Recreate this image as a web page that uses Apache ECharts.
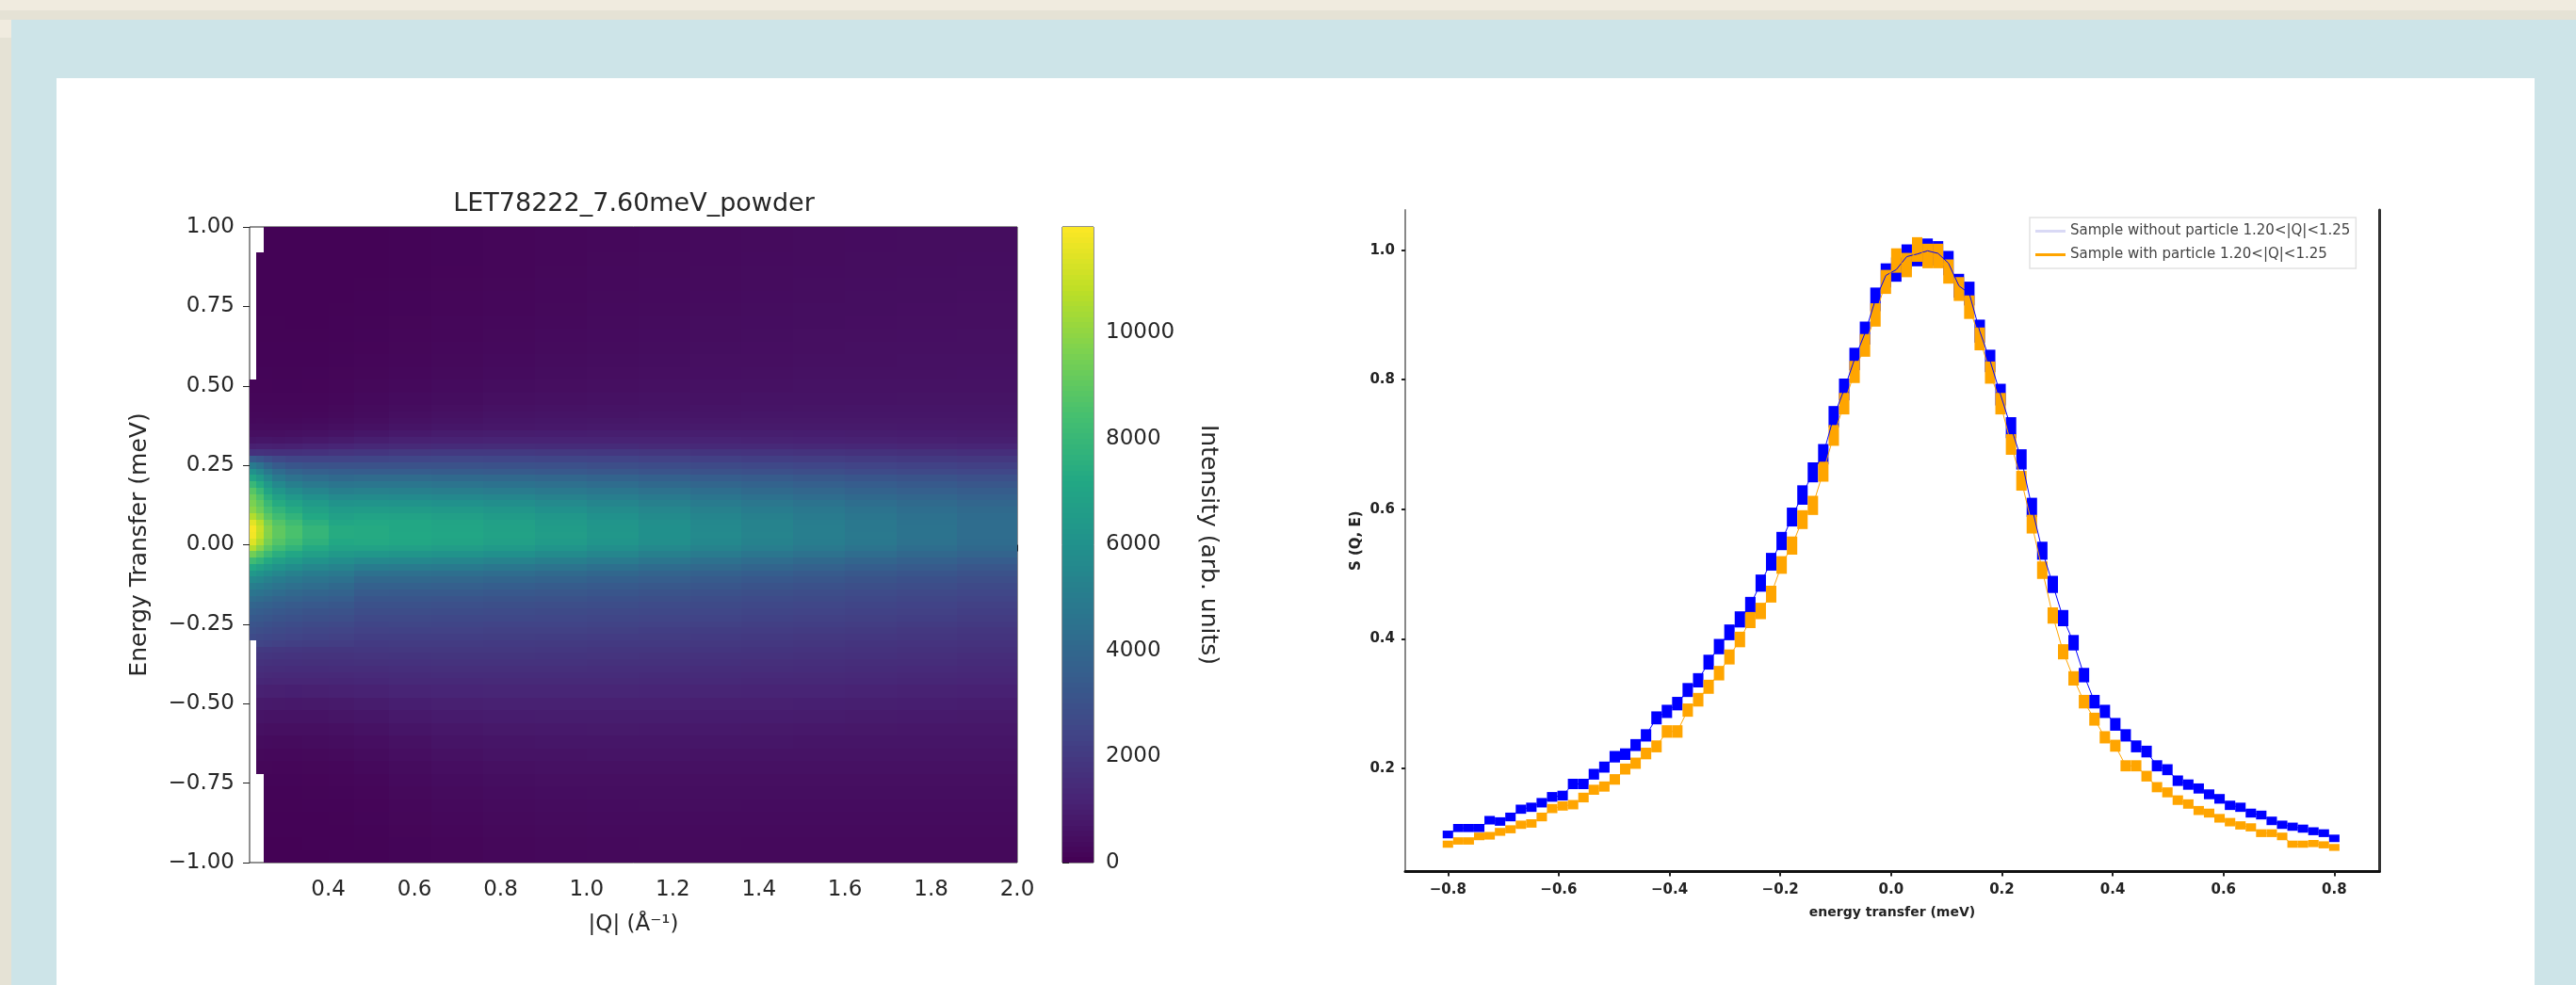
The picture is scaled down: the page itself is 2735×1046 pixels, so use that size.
<!DOCTYPE html>
<html><head><meta charset="utf-8">
<style>
html,body{margin:0;padding:0;width:2735px;height:1046px;overflow:hidden;background:#f0ebdf}
.p{position:absolute}
#chart{position:absolute;left:0;top:0;width:2735px;height:1046px;filter:blur(0.7px)}
</style>
<script src="https://cdn.jsdelivr.net/npm/echarts@6/dist/echarts.min.js"></script>
</head><body>
<div class="p" style="left:0;top:11px;width:2735px;height:10px;background:#e5e2d5"></div>
<div class="p" style="left:0;top:40px;width:12px;height:1006px;background:#e5e2d5"></div>
<div class="p" style="left:12px;top:21px;width:2723px;height:1025px;background:#cde4e8"></div>
<div class="p" style="left:60px;top:83px;width:2631px;height:963px;background:#fff"></div>
<div id="chart"></div>
<script>
const heatTitle = 'LET78222_7.60meV_powder';
const qEdges = [0.217,0.232,0.25,0.27,0.30,0.34,0.40,0.46,0.54,0.64,0.76,0.88,1.0,1.12,1.24,1.36,1.48,1.6,1.72,1.86,2.0];
const energyEdges = [1,.96,.92,.88,.84,.80,.76,.72,.68,.64,.60,.56,.52,.48,.44,.42,.40,.38,.36,.34,.32,.30,.28,.26,.24,.22,.20,.18,.16,.14,.12,.10,.08,.06,.04,.02,0,
 -.02,-.04,-.06,-.08,-.10,-.12,-.14,-.16,-.18,-.20,-.22,-.24,-.26,-.28,-.30,-.32,-.34,-.36,-.38,-.40,-.42,-.44,-.48,-.52,-.56,-.60,-.64,-.68,-.72,-.76,-.80,-.84,-.88,-.92,-.96,-1];
const n = null;
const intensityRows = [
[n,n,60,60,60,60,70,80,100,130,165,200,245,275,305,340,365,385,395,405],
[n,n,60,60,60,60,70,80,100,130,170,210,255,285,315,345,370,390,400,410],
[n,70,70,60,60,60,70,80,105,140,175,220,265,295,325,355,380,400,415,425],
[n,70,70,70,60,60,70,85,115,150,185,230,275,305,335,365,390,410,425,435],
[n,70,70,70,70,70,80,90,125,160,195,240,285,315,345,375,400,420,435,445],
[n,80,80,70,70,70,80,95,130,170,205,250,300,325,355,385,410,430,445,455],
[n,80,80,80,80,80,90,105,140,180,220,270,315,345,375,405,430,445,455,465],
[n,90,90,90,80,80,100,120,155,200,240,290,335,365,395,420,445,460,475,485],
[n,90,90,90,90,90,110,135,175,220,260,310,355,385,415,440,465,480,495,505],
[n,100,100,100,100,100,120,150,195,240,285,335,380,410,435,460,485,500,515,525],
[n,110,110,110,110,110,135,170,220,270,315,365,410,440,465,490,510,525,535,545],
[n,130,130,120,120,130,155,195,250,300,350,405,450,475,495,520,540,555,560,565],
[150,150,150,140,140,150,185,230,290,350,395,450,490,520,535,555,570,585,590,595],
[170,170,170,170,170,180,220,280,350,410,465,510,545,570,585,605,620,630,635,635],
[200,205,205,200,200,215,260,330,410,480,535,575,610,630,650,660,670,675,680,680],
[240,240,240,235,235,255,305,380,470,545,600,640,665,685,700,710,715,720,720,715],
[290,295,290,285,290,315,370,450,545,625,675,715,740,755,765,775,780,780,775,770],
[370,380,370,365,375,405,465,550,645,720,770,800,825,835,840,845,845,840,830,820],
[470,490,490,480,500,545,620,720,830,910,950,975,985,990,985,980,965,950,930,910],
[680,710,710,700,730,790,880,980,1080,1140,1170,1180,1180,1170,1150,1130,1110,1090,1060,1030],
[1050,1080,1080,1060,1090,1160,1250,1340,1430,1480,1490,1480,1460,1430,1400,1370,1340,1310,1280,1240],
[1700,1720,1680,1640,1650,1700,1780,1850,1930,1970,1970,1950,1900,1860,1810,1770,1730,1680,1630,1580],
[3400,3200,2900,2600,2450,2400,2400,2450,2500,2520,2500,2450,2380,2310,2240,2180,2120,2060,2000,1930],
[4900,4500,3900,3400,3150,3050,3000,3000,3030,3030,2990,2920,2830,2750,2660,2580,2500,2420,2340,2250],
[6000,5500,4800,4200,3850,3650,3550,3500,3500,3470,3420,3330,3230,3130,3020,2920,2820,2730,2630,2530],
[7000,6400,5600,4900,4500,4250,4100,4150,4150,4100,4020,3920,3790,3660,3530,3400,3290,3170,3050,2920],
[8000,7300,6350,5600,5150,4850,4650,4700,4690,4620,4530,4400,4260,4100,3940,3790,3650,3510,3360,3220],
[8800,8050,7000,6250,5750,5400,5150,5210,5170,5100,4990,4840,4680,4490,4310,4140,3970,3810,3650,3490],
[9300,8600,7550,6850,6350,5950,5650,5710,5670,5570,5450,5260,5080,4870,4670,4470,4280,4100,3910,3740],
[9600,9000,8050,7350,6900,6450,6100,6160,6100,6000,5850,5650,5430,5200,4960,4740,4550,4340,4130,3930],
[9900,9300,8450,7800,7350,6850,6500,6590,6540,6420,6250,6020,5770,5520,5250,5010,4790,4560,4330,4120],
[10600,9900,8900,8250,7750,7200,6800,6910,6860,6730,6530,6290,6000,5720,5440,5180,4940,4690,4450,4220],
[11500,10700,9500,8750,8200,7550,7100,7220,7120,6980,6760,6480,6180,5890,5570,5300,5040,4780,4530,4280],
[11900,11000,9800,9000,8500,7850,7350,7300,7140,7040,6830,6560,6250,5930,5620,5330,5060,4800,4540,4270],
[11800,10900,9750,9000,8500,7850,7350,7300,7190,7090,6880,6620,6290,5970,5650,5370,5090,4830,4560,4290],
[11400,10500,9450,8750,8250,7650,7200,7250,7140,6980,6770,6510,6200,5890,5580,5290,5030,4780,4500,4240],
[10600,9800,8900,8250,7750,7250,6900,6900,6760,6640,6450,6200,5910,5630,5340,5080,4830,4590,4340,4090],
[9400,8800,8100,7500,7100,6700,6400,6320,6220,6100,5940,5710,5460,5200,4950,4710,4490,4270,4050,3830],
[8200,7800,7250,6800,6450,6100,5850,5620,5550,5450,5320,5130,4920,4700,4480,4280,4090,3900,3710,3510],
[7200,6850,6450,6100,5800,5500,5300,5000,4950,4870,4750,4600,4420,4240,4060,3890,3730,3570,3410,3230],
[6350,6100,5800,5500,5250,5000,4850,4450,4410,4350,4250,4130,3990,3850,3700,3560,3430,3290,3150,3000],
[5650,5500,5250,5000,4800,4600,4450,4040,4010,3960,3880,3780,3660,3540,3420,3300,3190,3070,2950,2820],
[5100,5000,4800,4600,4400,4250,4100,3690,3670,3630,3560,3480,3380,3280,3180,3080,2980,2880,2780,2660],
[4650,4550,4400,4200,4050,3900,3780,3410,3390,3360,3300,3230,3150,3060,2970,2890,2800,2710,2620,2520],
[4250,4150,4050,3850,3720,3600,3500,3170,3160,3130,3080,3020,2950,2880,2800,2730,2650,2570,2490,2400],
[3900,3800,3700,3550,3430,3320,3250,2970,2960,2930,2890,2840,2780,2720,2650,2590,2520,2450,2370,2290],
[3600,3520,3420,3300,3180,3080,3020,2780,2780,2760,2720,2680,2630,2570,2510,2460,2400,2340,2270,2190],
[3350,3270,3180,3070,2960,2880,2820,2610,2610,2590,2560,2530,2480,2430,2380,2340,2280,2230,2170,2090],
[3130,3050,2950,2850,2750,2680,2630,2460,2470,2450,2420,2400,2350,2310,2270,2220,2170,2120,2060,1990],
[2920,2840,2750,2650,2560,2490,2440,2310,2320,2310,2290,2270,2230,2190,2150,2110,2060,2010,1960,1890],
[2700,2630,2550,2470,2390,2320,2280,2170,2190,2180,2160,2150,2110,2080,2040,2000,1960,1910,1860,1800],
[n,2430,2360,2290,2220,2160,2130,2040,2060,2060,2040,2030,2000,1970,1940,1900,1860,1810,1770,1710],
[n,2030,1980,1940,1910,1890,1890,1910,1930,1940,1930,1920,1890,1860,1840,1800,1770,1720,1680,1630],
[n,1880,1840,1800,1770,1760,1760,1790,1810,1820,1820,1810,1790,1760,1740,1710,1680,1640,1600,1550],
[n,1730,1690,1660,1640,1630,1640,1670,1700,1710,1710,1710,1690,1670,1650,1620,1590,1550,1520,1470],
[n,1590,1550,1530,1510,1510,1520,1550,1590,1600,1610,1610,1590,1570,1550,1530,1500,1470,1440,1400],
[n,1450,1420,1400,1390,1390,1400,1440,1480,1500,1510,1510,1500,1480,1460,1440,1420,1390,1360,1320],
[n,1320,1290,1270,1260,1270,1290,1330,1380,1400,1420,1420,1410,1390,1380,1360,1340,1310,1290,1250],
[n,1100,1060,1050,1040,1050,1080,1140,1200,1240,1260,1270,1260,1250,1230,1210,1190,1170,1140,1110],
[n,850,820,810,800,810,850,910,1000,1060,1090,1100,1100,1090,1070,1060,1040,1020,1000,970],
[n,660,630,620,620,630,670,730,820,900,940,960,960,950,940,930,910,890,870,850],
[n,500,480,470,470,480,520,580,680,770,810,830,840,830,820,810,800,780,770,760],
[n,370,350,340,340,360,400,460,560,650,700,720,730,730,720,710,700,690,690,680],
[n,260,250,250,250,270,300,360,460,550,600,630,640,640,630,630,620,610,600,600],
[n,190,190,180,180,190,220,280,370,460,510,540,560,560,550,550,550,540,540,540],
[n,n,140,140,140,150,170,220,310,390,440,470,490,490,490,490,480,480,480,480],
[n,n,110,110,110,120,140,180,260,330,390,420,440,440,440,440,430,430,430,430],
[n,n,90,90,90,100,110,150,220,280,340,370,390,395,395,390,390,390,390,390],
[n,n,70,70,70,80,90,130,190,240,300,330,350,355,355,350,350,350,350,350],
[n,n,60,60,60,70,80,110,160,210,260,300,320,325,325,320,320,320,320,320],
[n,n,50,50,50,60,70,90,140,180,230,270,290,295,295,290,290,290,290,290],
[n,n,50,50,50,50,60,80,120,160,210,240,260,265,270,270,270,270,270,270]
];
const qTicks = [0.4,0.6,0.8,1.0,1.2,1.4,1.6,1.8,2.0];
const energyTicks = [-1,-0.75,-0.5,-0.25,0,0.25,0.5,0.75,1];
const barTicks = [0,2000,4000,6000,8000,10000];
const viridis = ['#440154','#482475','#414487','#355f8d','#2a788e','#21918c','#22a884','#44bf70','#7ad151','#bddf26','#fde725'];

const transferX = [-0.8,-0.7812,-0.7624,-0.7435,-0.7247,-0.7059,-0.6871,-0.6682,-0.6494,-0.6306,-0.6118,-0.5929,-0.5741,-0.5553,-0.5365,-0.5176,-0.4988,-0.48,-0.4612,-0.4424,-0.4235,-0.4047,-0.3859,-0.3671,-0.3482,-0.3294,-0.3106,-0.2918,-0.2729,-0.2541,-0.2353,-0.2165,-0.1976,-0.1788,-0.16,-0.1412,-0.1224,-0.1035,-0.0847,-0.0659,-0.0471,-0.0282,-0.0094,0.0094,0.0282,0.0471,0.0659,0.0847,0.1035,0.1224,0.1412,0.16,0.1788,0.1976,0.2165,0.2353,0.2541,0.2729,0.2918,0.3106,0.3294,0.3482,0.3671,0.3859,0.4047,0.4235,0.4424,0.4612,0.48,0.4988,0.5176,0.5365,0.5553,0.5741,0.5929,0.6118,0.6306,0.6494,0.6682,0.6871,0.7059,0.7247,0.7435,0.7624,0.7812,0.8];
const withoutParticle = [.098,.108,.108,.108,.120,.118,.125,.137,.140,.147,.156,.158,.176,.176,.191,.202,.218,.222,.236,.251,.278,.288,.300,.321,.336,.364,.388,.410,.430,.452,.486,.519,.551,.588,.622,.657,.685,.743,.785,.832,.872,.924,.961,.970,.990,.994,.999,.995,.980,.945,.933,.875,.829,.777,.726,.677,.603,.536,.484,.432,.394,.344,.303,.288,.268,.251,.234,.226,.204,.198,.181,.175,.169,.160,.153,.143,.140,.131,.128,.119,.113,.110,.107,.103,.100,.092];
const withParticle = [.083,.088,.088,.095,.096,.102,.106,.113,.115,.125,.138,.142,.144,.155,.167,.172,.183,.199,.208,.223,.234,.257,.257,.290,.306,.326,.347,.372,.399,.429,.443,.469,.514,.544,.584,.606,.658,.714,.763,.812,.853,.900,.951,.984,.977,1.001,.991,.991,.967,.940,.912,.863,.811,.763,.700,.644,.577,.506,.436,.380,.339,.303,.276,.248,.235,.204,.204,.188,.171,.163,.151,.145,.135,.131,.123,.117,.112,.109,.100,.100,.095,.083,.083,.084,.082,.078];
const transferTicks = [-0.8,-0.6,-0.4,-0.2,0,0.2,0.4,0.6,0.8];
const sqeTicks = [0.2,0.4,0.6,0.8,1.0];
const nameWithout = 'Sample without particle 1.20<|Q|<1.25';
const nameWith = 'Sample with particle 1.20<|Q|<1.25';

const binWidth = 0.0188, errScale = 0.019, barMax = 11990, strips = 120;
const minus = s => s.replace('-', '\u2212');
const font = 'DejaVu Sans', ink = '#262626';

const heatData = [];
intensityRows.forEach((row, r) => row.forEach((v, c) => {
  if (v !== null) heatData.push([qEdges[c], qEdges[c+1], energyEdges[r+1], energyEdges[r], v]);
}));
const barData = [];
for (let i = 0; i < strips; i++) {
  const lo = barMax*i/strips, hi = barMax*(i+1)/strips;
  barData.push([0, 1, lo, hi, (lo+hi)/2]);
}
function cell(params, api) {
  const a = api.coord([api.value(0), api.value(3)]);
  const b = api.coord([api.value(1), api.value(2)]);
  const x = Math.round(a[0]), y = Math.round(a[1]);
  return {type:'rect', shape:{x, y, width:Math.round(b[0])-x, height:Math.round(b[1])-y},
    style:{fill:api.visual('color')}};
}
function errorBlock(params, api) {
  const x = api.value(0), v = api.value(1), half = errScale*Math.sqrt(v);
  const a = api.coord([x-binWidth/2, v+half]);
  const b = api.coord([x+binWidth/2, v-half]);
  return {type:'rect', shape:{x:a[0], y:a[1], width:b[0]-a[0], height:b[1]-a[1]},
    style:{fill:api.visual('color')}};
}
const pairs = ys => transferX.map((x,i) => [x, ys[i]]);
const leftLabel = {fontFamily:font, fontSize:23, color:ink};
const rightLabel = {fontFamily:font, fontSize:15, color:'#222', fontWeight:'bold'};

const chart = echarts.init(document.getElementById('chart'), null, {renderer:'canvas'});
chart.setOption({
  animation:false,
  backgroundColor:'transparent',
  title:[{text:heatTitle, left:668, top:198, textAlign:'center',
    textStyle:{fontFamily:font, fontSize:27, fontWeight:'normal', color:ink}}],
  legend:{orient:'vertical', left:2155, top:231, icon:'rect', itemWidth:32, itemHeight:3, itemGap:10,
    padding:[7,6,7,6], backgroundColor:'#fff', borderColor:'#e2e2e2', borderWidth:1.5, selectedMode:false,
    textStyle:{fontFamily:font, fontSize:15, color:'#444'},
    data:[{name:nameWithout, itemStyle:{color:'#d9d9f5'}}, {name:nameWith, itemStyle:{color:'#ffa500'}}]},
  visualMap:{show:false, min:0, max:barMax, dimension:4, seriesIndex:[0,1], inRange:{color:viridis}},
  grid:[
    {left:265, top:241, width:815, height:675, show:true, borderColor:'#222', borderWidth:1, backgroundColor:'#fff'},
    {left:1128, top:241, width:33, height:675, show:true, borderColor:'#222', borderWidth:1},
    {left:1492, top:223, width:1034, height:702.5}
  ],
  xAxis:[
    {gridIndex:0, type:'value', min:0.217, max:2.0, name:'|Q| (\u00c5\u207b\u00b9)', nameLocation:'middle', nameGap:55,
     nameTextStyle:{fontFamily:font, fontSize:23, color:ink}, splitLine:{show:false},
     axisLine:{show:false}, axisTick:{length:7, lineStyle:{color:'#222'}, customValues:qTicks},
     axisLabel:{...leftLabel, margin:18, customValues:qTicks, formatter:v=>v.toFixed(1)}},
    {gridIndex:1, type:'value', min:0, max:1, show:false},
    {gridIndex:2, type:'value', min:-0.877, max:0.881, name:'energy transfer (meV)', nameLocation:'middle', nameGap:37,
     nameTextStyle:{fontFamily:font, fontSize:14, color:'#222', fontWeight:'bold'}, splitLine:{show:false},
     axisLine:{show:true, onZero:false, lineStyle:{color:'#111', width:3}},
     axisTick:{length:5, lineStyle:{color:'#222', width:2}, customValues:transferTicks},
     axisLabel:{...rightLabel, margin:12, customValues:transferTicks, formatter:v=>minus(v.toFixed(1))}}
  ],
  yAxis:[
    {gridIndex:0, type:'value', min:-1, max:1, name:'Energy Transfer (meV)', nameLocation:'middle', nameGap:104,
     nameTextStyle:{fontFamily:font, fontSize:25, color:ink}, splitLine:{show:false},
     axisLine:{show:false}, axisTick:{length:7, lineStyle:{color:'#222'}, customValues:energyTicks},
     axisLabel:{...leftLabel, margin:16, customValues:energyTicks, formatter:v=>minus(v.toFixed(2))}},
    {gridIndex:1, type:'value', position:'right', min:0, max:barMax, name:'Intensity (arb. units)', nameLocation:'middle', nameGap:109, nameRotate:-90,
     nameTextStyle:{fontFamily:font, fontSize:25, color:ink}, splitLine:{show:false},
     axisLine:{show:false}, axisTick:{length:7, lineStyle:{color:'#222'}, customValues:barTicks},
     axisLabel:{...leftLabel, margin:13, customValues:barTicks, formatter:v=>String(v)}},
    {gridIndex:2, type:'value', min:0.0408, max:1.062, name:'S (Q, E)', nameLocation:'middle', nameGap:44,
     nameTextStyle:{fontFamily:font, fontSize:15, color:'#222', fontWeight:'bold'}, splitLine:{show:false},
     axisLine:{show:true, onZero:false, lineStyle:{color:'#888', width:2}},
     axisTick:{length:4, lineStyle:{color:'#222', width:2}, customValues:sqeTicks},
     axisLabel:{...rightLabel, margin:11, customValues:sqeTicks, formatter:v=>v.toFixed(1)}},
    {gridIndex:2, type:'value', position:'right', min:0.0408, max:1.062, splitLine:{show:false},
     axisLine:{show:true, onZero:false, lineStyle:{color:'#333', width:3}}, axisTick:{show:false}, axisLabel:{show:false}}
  ],
  series:[
    {type:'custom', xAxisIndex:0, yAxisIndex:0, renderItem:cell, data:heatData, encode:{x:[0,1], y:[2,3]}, silent:true},
    {type:'custom', xAxisIndex:1, yAxisIndex:1, renderItem:cell, data:barData, encode:{x:[0,1], y:[2,3]}, silent:true},
    {type:'line', name:nameWithout, xAxisIndex:2, yAxisIndex:2, data:pairs(withoutParticle), showSymbol:false, color:'#0000ff', lineStyle:{width:1}},
    {type:'custom', name:nameWithout+' bins', xAxisIndex:2, yAxisIndex:2, renderItem:errorBlock, data:pairs(withoutParticle), encode:{x:0, y:1}, itemStyle:{color:'#0000ff'}},
    {type:'line', name:nameWith, xAxisIndex:2, yAxisIndex:2, data:pairs(withParticle), showSymbol:false, color:'#ffa500', lineStyle:{width:1}},
    {type:'custom', name:nameWith+' bins', xAxisIndex:2, yAxisIndex:2, renderItem:errorBlock, data:pairs(withParticle), encode:{x:0, y:1}, itemStyle:{color:'#ffa500'}}
  ]
});
</script>
</body></html>
